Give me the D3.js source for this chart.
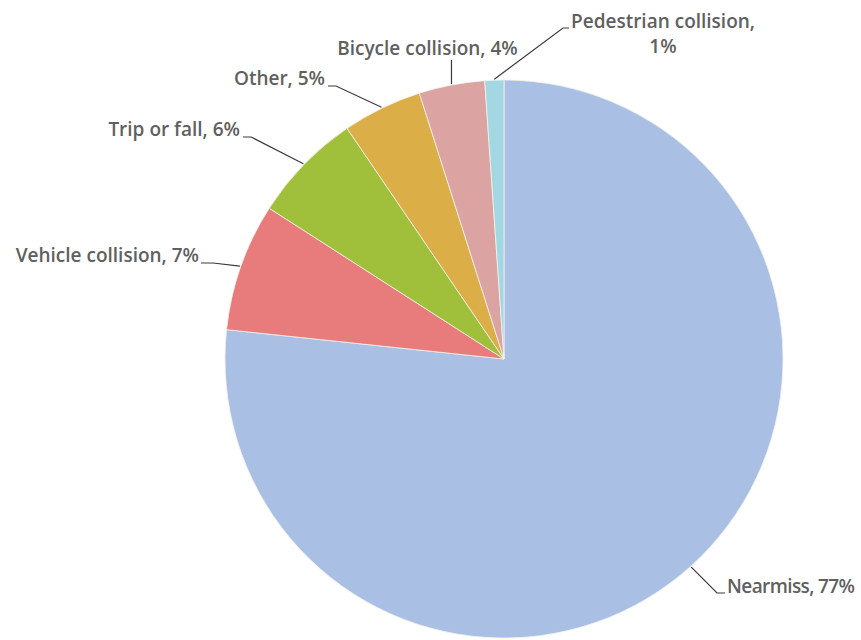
<!DOCTYPE html>
<html>
<head>
<meta charset="utf-8">
<script src="https://cdn.jsdelivr.net/npm/d3@7"></script>
<style>
  html, body { margin: 0; padding: 0; background: #fff; }
  svg { display: block; }
  text { font-family: "Open Sans", sans-serif; font-weight: 600; font-size: 19px; fill: #606060; }
</style>
</head>
<body>
<svg id="chart" width="861" height="640"></svg>
<script>
// Data
const categories = ["Nearmiss", "Vehicle collision", "Trip or fall", "Other", "Bicycle collision", "Pedestrian collision"];
const values = [76.6, 7.4, 6.4, 4.6, 3.8, 1.1];
const labelPercents = ["77%", "7%", "6%", "5%", "4%", "1%"];
const colors = ["#a9bfe3", "#e87b7b", "#a0bf3a", "#dcae48", "#dca3a3", "#a3d8e3"];

const W = 861, H = 640;
const cx = 504, cy = 359, R = 279;

const svg = d3.select("#chart");
const g = svg.append("g").attr("transform", `translate(${cx},${cy})`);

const pie = d3.pie().sort(null).value(d => d.value);
const data = categories.map((c, i) => ({ name: c, value: values[i], pct: labelPercents[i], color: colors[i] }));
const arcs = pie(data);
const arc = d3.arc().innerRadius(0).outerRadius(R);

g.selectAll("path.slice")
  .data(arcs)
  .enter().append("path")
  .attr("class", "slice")
  .attr("d", arc)
  .attr("fill", d => d.data.color)
  .attr("stroke", "#f4f1ec")
  .attr("stroke-width", 0.8);

// Label layout (page coords for elbows/text)
const layout = {
  "Nearmiss":             { elbow: [717, 593], end: [725, 593], text: [727, 593], anchor: "start", spacing: -0.6 },
  "Vehicle collision":    { elbow: [213, 263], end: [201, 263], text: [199, 262], anchor: "end" },
  "Trip or fall":         { elbow: [251, 137], end: [243, 137], text: [240, 136], anchor: "end" },
  "Other":                { elbow: [336, 86],  end: [328, 86],  text: [325, 85],  anchor: "end" },
  "Bicycle collision":    { elbow: null,       end: null,       text: [427, 55],  anchor: "middle", vertical: 60 },
  "Pedestrian collision": { elbow: [563, 28],  end: [569, 28],  text: [663, 28],  anchor: "middle", twoLine: true }
};

const lineGen = d3.line();
const lab = svg.append("g");

arcs.forEach(a => {
  const L = layout[a.data.name];
  const mid = (a.startAngle + a.endAngle) / 2;
  const r0 = R + 1;
  const p0 = [cx + Math.sin(mid) * r0, cy - Math.cos(mid) * r0];
  let pts;
  if (L.vertical !== undefined) {
    pts = [p0, [p0[0], L.vertical]];
  } else {
    pts = [p0, L.elbow, L.end];
  }
  lab.append("path")
    .attr("d", lineGen(pts))
    .attr("fill", "none")
    .attr("stroke", "#3a3a3a")
    .attr("stroke-width", 1.2);

  const t = lab.append("text")
    .attr("text-anchor", L.anchor)
    .attr("x", L.vertical !== undefined ? p0[0] - 24 : L.text[0])
    .attr("y", L.text[1]);
  if (L.spacing) t.attr("letter-spacing", L.spacing);
  if (L.twoLine) {
    t.append("tspan").attr("x", L.text[0]).attr("y", L.text[1]).text(a.data.name + ",");
    t.append("tspan").attr("x", L.text[0]).attr("dy", 25).text(a.data.pct);
  } else {
    t.text(a.data.name + ", " + a.data.pct);
  }
});
</script>
</body>
</html>
